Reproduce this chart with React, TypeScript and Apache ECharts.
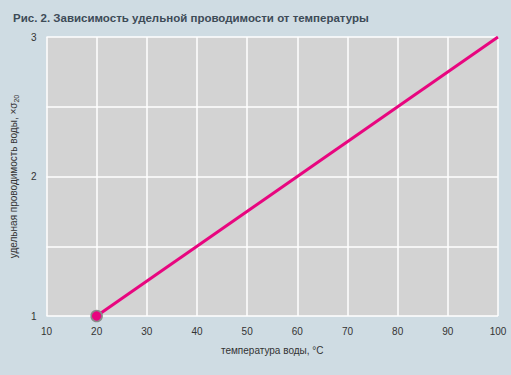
import React, { useEffect, useRef } from "react";
import * as echarts from "echarts";

const temperatures = [20, 100];
const conductivity = [1, 3];
const xTicks = [10, 20, 30, 40, 50, 60, 70, 80, 90, 100];
const yTicks = [1, 2, 3];

const FONT = "'Liberation Sans', Arial, sans-serif";

export default function App() {
  const ref = useRef<HTMLDivElement>(null);
  useEffect(() => {
    if (!ref.current) return;
    const chart = echarts.init(ref.current, null, { renderer: "svg" });
    chart.setOption({
      animation: false,
      backgroundColor: "#cfdce3",
      title: {
        text: "Рис. 2. Зависимость удельной проводимости от температуры",
        left: 8,
        top: 7,
        textStyle: { fontFamily: FONT, fontSize: 11.5, fontWeight: "bold", color: "#3d4b57" },
      },
      grid: {
        left: 44,
        right: 13,
        top: 37,
        bottom: 59,
        show: true,
        backgroundColor: "#d3d3d3",
        borderWidth: 0,
      },
      xAxis: {
        type: "value",
        min: xTicks[0],
        max: xTicks[xTicks.length - 1],
        interval: 10,
        axisLine: { show: false },
        axisTick: { show: false },
        splitLine: { show: true, lineStyle: { color: "#ffffff", width: 1.5 } },
        axisLabel: { fontFamily: FONT, fontSize: 10, color: "#333", margin: 10 },
        name: "температура воды, °C",
        nameLocation: "middle",
        nameGap: 29,
        nameTextStyle: { fontFamily: FONT, fontSize: 10, color: "#333" },
      },
      yAxis: {
        type: "value",
        min: 1,
        max: 3,
        interval: 0.5,
        axisLine: { show: false },
        axisTick: { show: false },
        splitLine: { show: true, lineStyle: { color: "#ffffff", width: 1.5 } },
        axisLabel: {
          fontFamily: FONT,
          fontSize: 10,
          color: "#333",
          margin: 10,
          formatter: (v: number) => (yTicks.includes(v) ? String(v) : ""),
        },
        name: "{a|удельная проводимость воды, ×σ}{s|20}",
        nameLocation: "middle",
        nameGap: 24,
        nameTextStyle: {
          rich: {
            a: { fontFamily: FONT, fontSize: 10, color: "#333", lineHeight: 14 },
            s: { fontFamily: FONT, fontSize: 7, color: "#333", lineHeight: 14, verticalAlign: "bottom" },
          },
        },
      },
      series: [
        {
          type: "line",
          data: temperatures.map((t, i) => ({
            value: [t, conductivity[i]],
            symbolSize: i === 0 ? 11 : 0,
          })),
          lineStyle: { color: "#e8067f", width: 3 },
          itemStyle: { color: "#e8067f", borderColor: "#8a8a8a", borderWidth: 1.5 },
          symbol: "circle",
          showSymbol: true,
          emphasis: { disabled: true },
        },
      ],
    });
    return () => chart.dispose();
  }, []);
  return <div ref={ref} style={{ position: "fixed", left: 0, top: 0, width: 511, height: 375 }} />;
}
